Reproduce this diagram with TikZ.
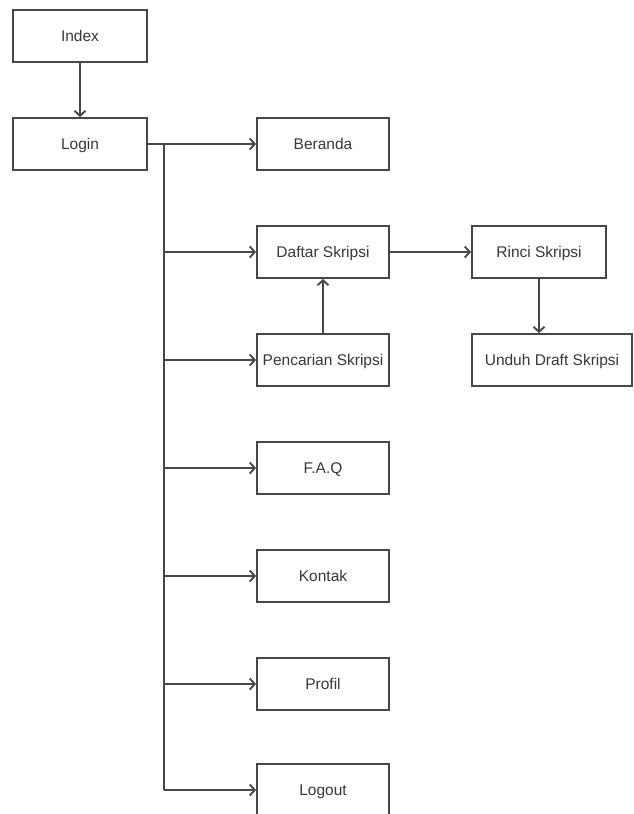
\documentclass[tikz,border=0pt]{standalone}
\usepackage{fontspec}
\setmainfont{Liberation Sans}
\usetikzlibrary{positioning, arrows.meta}

\begin{document}
\begin{tikzpicture}[x=1pt, y=-1pt,
    page/.style={draw=black!72, line width=1.9pt, fill=white, minimum width=132pt,
      minimum height=52pt, inner sep=2pt, text height=13pt, text depth=2pt,
      text=black!78, font=\fontsize{15.5}{17}\selectfont},
    wire/.style={draw=black!72, line width=1.9pt},
    link/.style={wire, -{Straight Barb[length=5pt, width=11pt, line width=1.9pt]}}]
    \useasboundingbox (0,0) rectangle (633,814);
    % pages
    \node[page, minimum width=134pt] (index) at (80,36) {Index};
    \node[page, minimum width=134pt] (login) at (80,144) {Login};
    \node[page] (beranda) at (323,144) {Beranda};
    \node[page] (daftar) at (323,252) {Daftar Skripsi};
    \node[page] (cari) at (323,360) {Pencarian Skripsi};
    \node[page] (faq) at (323,468) {F.A.Q};
    \node[page] (kontak) at (323,576) {Kontak};
    \node[page] (profil) at (323,684) {Profil};
    \node[page] (logout) at (323,790) {Logout};
    \node[page, minimum width=134pt] (rinci) at (539,252) {Rinci Skripsi};
    \node[page, minimum width=160pt] (unduh) at (552,360) {Unduh Draft Skripsi};
    % trunk from login
    \coordinate (trunk) at (164,144);
    \draw[wire] (trunk) -- (trunk |- logout.west);
    \draw[link] (index) -- (login);
    \draw[link] (login) -- (beranda);
    \foreach \p in {daftar, cari, faq, kontak, profil, logout}
      \draw[link] (trunk |- \p.west) -- (\p);
    \draw[link] (cari) -- (daftar);
    \draw[link] (daftar) -- (rinci);
    \draw[link] (rinci.south) -- (rinci.south |- unduh.north);
\end{tikzpicture}
\end{document}
